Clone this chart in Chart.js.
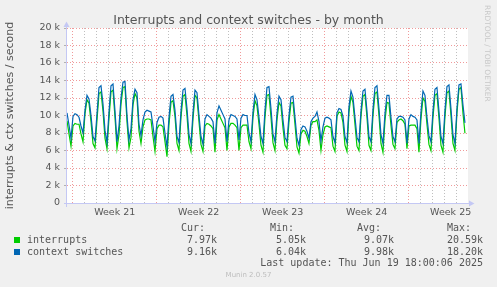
<!DOCTYPE html>
<html>
<head>
<meta charset="utf-8">
<script src="https://cdn.jsdelivr.net/npm/chart.js@4.4.1/dist/chart.umd.min.js"></script>
<style>
    html, body { margin: 0; padding: 0; background: #f0f0f0; }
    #wrap { position: relative; width: 497px; height: 287px; overflow: hidden; color: #555; font-family: 'DejaVu Sans Mono', monospace; font-size: 10px; }
    #wrap canvas { position: absolute; left: 0; top: 0; }
    .t { position: absolute; white-space: pre; line-height: 12px; }
    .r { text-align: right; }
    .sq { position: absolute; width: 6px; height: 6px; }
    #titulo { position: absolute; left: 0; width: 497px; top: 12px; text-align: center; font-family: 'DejaVu Sans', sans-serif; font-size: 12.5px; line-height: 15px; color: #555; }
    #rrd { position: absolute; left: 483px; top: 5px; writing-mode: vertical-rl; font-family: 'DejaVu Sans', sans-serif; font-size: 7.5px; color: #c8c8c8; }
    #munin { position: absolute; left: 0; width: 497px; top: 271px; text-align: center; font-family: 'DejaVu Sans', sans-serif; font-size: 7px; color: #bdbdbd; }
</style>
</head>
<body>
<div id="wrap">
    <canvas id="irqChart" width="497" height="287"></canvas>
    <div id="titulo">Interrupts and context switches - by month</div>
    <div id="rrd">RRDTOOL / TOBI OETIKER</div>

    <div class="t" style="left:181px; top:222px">Cur:</div>
    <div class="t" style="left:270px; top:222px">Min:</div>
    <div class="t" style="left:357px; top:222px">Avg:</div>
    <div class="t" style="left:447px; top:222px">Max:</div>

    <div class="sq" style="left:14px; top:237px; background:#00cc00"></div>
    <div class="t" style="left:27px; top:234px">interrupts</div>
    <div class="t r" style="right:280px; top:234px">7.97k</div>
    <div class="t r" style="right:191px; top:234px">5.05k</div>
    <div class="t r" style="right:103px; top:234px">9.07k</div>
    <div class="t r" style="right:14px; top:234px">20.59k</div>

    <div class="sq" style="left:14px; top:249px; background:#0066b3"></div>
    <div class="t" style="left:27px; top:246px">context switches</div>
    <div class="t r" style="right:280px; top:246px">9.16k</div>
    <div class="t r" style="right:191px; top:246px">6.04k</div>
    <div class="t r" style="right:103px; top:246px">9.98k</div>
    <div class="t r" style="right:14px; top:246px">18.20k</div>

    <div class="t r" style="right:14px; top:257px">Last update: Thu Jun 19 18:00:06 2025</div>
    <div id="munin">Munin 2.0.57</div>
</div>

<script>
// one sample every 4 hours, x axis counted in days from the first sample
const stepDays = 1 / 6;
const spanDays = 33.42;
const firstDayLine = 0.475;   // first midnight after the start (also start of week 21)
const weekLabels = ['Week 21', 'Week 22', 'Week 23', 'Week 24', 'Week 25'];

const interrupts = [
    9400, 7900, 6500, 8800, 9100, 9000,
    9000, 7900, 7000, 10200, 11800, 11400,
    9300, 6800, 6300, 9500, 12500, 12700,
    10500, 7400, 6200, 9700, 12700, 12900,
    9800, 6200, 7800, 11300, 13200, 13300,
    9300, 6300, 7500, 11200, 12500, 12000,
    8200, 6800, 8700, 9500, 9600, 9600,
    9500, 7600, 5900, 8500, 8900, 8900,
    8700, 7000, 5300, 9000, 11500, 11700,
    9900, 6800, 6000, 9800, 12200, 12400,
    10000, 6800, 5900, 9600, 12300, 12000,
    9300, 6700, 5900, 8800, 9100, 9000,
    8800, 8500, 5800, 9500, 10100, 9600,
    9100, 8600, 6000, 8700, 9100, 9100,
    8900, 8600, 6000, 8600, 8900, 8900,
    8900, 7000, 6200, 9800, 11700, 11100,
    9000, 6600, 5800, 9800, 12300, 12400,
    9800, 6900, 6000, 9500, 11500, 11100,
    8600, 6600, 6200, 9300, 11400, 11500,
    9000, 6400, 5700, 7900, 8300, 8200,
    7600, 6800, 8900, 9300, 9300, 9500,
    8300, 6000, 7800, 8700, 8800, 8700,
    8600, 6500, 5900, 9900, 10400, 10300,
    9200, 6600, 5900, 10400, 12200, 11500,
    9000, 6500, 6000, 9900, 12200, 12400,
    9800, 6600, 6000, 10000, 12500, 12700,
    10000, 6800, 5800, 9400, 11500, 11400,
    8900, 6700, 6200, 9200, 9500, 9600,
    9400, 9000, 6200, 8800, 8900, 8900,
    8900, 8500, 5800, 9600, 12000, 11600,
    9000, 6700, 6000, 9800, 12300, 12500,
    9700, 6600, 5800, 9900, 12600, 12800,
    10000, 6800, 6000, 10300, 13000, 13200,
    10300, 7970
];

const contextSwitches = [
    10300, 8900, 7400, 9900, 10200, 10100,
    9800, 8800, 8000, 10600, 12300, 11900,
    10000, 7600, 7100, 10200, 13200, 13400,
    11300, 8300, 6900, 10400, 13400, 13600,
    10500, 7000, 8800, 12000, 13800, 13900,
    10000, 7200, 8500, 11800, 13000, 12600,
    9000, 7700, 9500, 10400, 10600, 10500,
    10400, 8800, 7000, 9200, 9800, 9900,
    9700, 8000, 6400, 9800, 12200, 12400,
    10600, 7600, 6900, 10500, 12900, 13100,
    10800, 7800, 6800, 10300, 12900, 12600,
    10000, 7600, 6700, 9600, 10100, 9900,
    9700, 9300, 6800, 10300, 11100, 10600,
    10100, 9600, 7000, 9500, 10100, 10000,
    9900, 9600, 7200, 9700, 10100, 10000,
    10000, 8000, 7000, 10400, 12400, 11800,
    9800, 7600, 6800, 10600, 13200, 13300,
    10800, 7900, 7000, 10200, 12200, 11800,
    9500, 7500, 7000, 10000, 12100, 12200,
    9800, 7400, 6600, 8400, 8800, 8700,
    8200, 7400, 9300, 9700, 9900, 10400,
    9300, 7100, 8700, 9700, 9800, 9700,
    9500, 7600, 6900, 10300, 10800, 10700,
    9900, 7600, 6900, 11000, 12800, 12100,
    9800, 7500, 7000, 10500, 12800, 13000,
    10500, 7600, 7000, 10700, 13200, 13400,
    10800, 7800, 6800, 10200, 12300, 12300,
    9800, 7600, 7000, 9600, 9900, 9900,
    9800, 9500, 6800, 9600, 10100, 9900,
    9800, 9500, 6800, 10400, 12800, 12300,
    9800, 7700, 7000, 10500, 13000, 13200,
    10500, 7600, 6800, 10600, 13300, 13500,
    10800, 7800, 6800, 10800, 13500, 13600,
    11200, 9160
];

const gridRojo = 'rgba(235, 120, 120, 0.75)';
const gridGris = 'rgba(175, 175, 175, 0.8)';
const ejeColor = '#c4c8f4';

const toPoints = arr => arr.map((v, i) => ({ x: i * stepDays, y: v }));

// ticks del eje x: una linea por dia y una etiqueta a mitad de cada semana
const xTicks = [];
for (let d = firstDayLine; d < spanDays; d += 1) {
    xTicks.push({ value: d, week: Math.round(d - firstDayLine) % 7 === 0 });
}
weekLabels.forEach((name, i) => {
    xTicks.push({ value: firstDayLine + 3.5 + 7 * i, name: name });
});
xTicks.sort((a, b) => a.value - b.value);

const marco = {
    id: 'marco',
    beforeDraw(chart) {
        const { ctx, chartArea: a } = chart;
        ctx.save();
        ctx.fillStyle = '#ffffff';
        ctx.fillRect(a.left, a.top, a.right - a.left, a.bottom - a.top);
        ctx.restore();
    },
    afterDraw(chart) {
        const { ctx, chartArea: a } = chart;
        const y0 = Math.round(a.bottom) + 0.5;
        const x0 = Math.round(a.left) - 0.5;
        ctx.save();
        ctx.strokeStyle = ejeColor;
        ctx.fillStyle = ejeColor;
        ctx.lineWidth = 1;
        ctx.beginPath();
        ctx.moveTo(a.left - 3, y0);
        ctx.lineTo(a.right + 2, y0);
        ctx.moveTo(x0, a.bottom + 4);
        ctx.lineTo(x0, a.top - 2);
        ctx.stroke();
        ctx.beginPath();
        ctx.moveTo(a.right + 1, y0 - 3);
        ctx.lineTo(a.right + 6.5, y0);
        ctx.lineTo(a.right + 1, y0 + 3);
        ctx.closePath();
        ctx.fill();
        ctx.beginPath();
        ctx.moveTo(x0 - 3, a.top - 1);
        ctx.lineTo(x0, a.top - 6.5);
        ctx.lineTo(x0 + 3, a.top - 1);
        ctx.closePath();
        ctx.fill();
        ctx.restore();
    }
};

const ctxCanvas = document.getElementById('irqChart');
const irqChart = new Chart(ctxCanvas, {
    type: 'line',
    data: {
        datasets: [
            {
                label: 'context switches',
                data: toPoints(contextSwitches),
                borderColor: '#0066b3',
                borderWidth: 1.2,
                pointRadius: 0,
                tension: 0,
                order: 0
            },
            {
                label: 'interrupts',
                data: toPoints(interrupts),
                borderColor: '#00cc00',
                borderWidth: 1.2,
                pointRadius: 0,
                tension: 0,
                order: 1
            }
        ]
    },
    options: {
        responsive: false,
        animation: false,
        devicePixelRatio: 1,
        layout: {
            padding: { left: 0, right: 29, top: 28, bottom: 64 }
        },
        plugins: {
            legend: { display: false },
            title: { display: false },
            tooltip: { enabled: false }
        },
        scales: {
            x: {
                type: 'linear',
                min: 0,
                max: spanDays,
                afterBuildTicks: scale => {
                    scale.ticks = xTicks.map(t => ({ ...t }));
                },
                afterFit: scale => {
                    scale.height = 20;
                },
                border: { display: false, dash: [1, 2] },
                grid: {
                    drawTicks: false,
                    lineWidth: 1,
                    color: c => {
                        if (!c.tick || c.tick.name) return 'rgba(0,0,0,0)';
                        return c.tick.week ? gridRojo : gridGris;
                    }
                },
                ticks: {
                    autoSkip: false,
                    maxRotation: 0,
                    padding: 4,
                    color: '#555',
                    font: { family: 'DejaVu Sans', size: 9.5 },
                    callback: (value, index, ticks) => ticks[index].name || ''
                }
            },
            y: {
                min: 0,
                max: 20000,
                afterFit: scale => {
                    scale.width = 67;
                },
                border: { display: false, dash: [1, 2] },
                grid: {
                    lineWidth: 1,
                    tickLength: 3,
                    color: c => (c.tick && c.tick.value % 2000 === 0) ? gridRojo : gridGris,
                    tickColor: '#b0b0b0'
                },
                ticks: {
                    stepSize: 1000,
                    padding: 4,
                    color: '#555',
                    font: { family: 'DejaVu Sans', size: 9.5 },
                    callback: v => {
                        if (v % 2000 !== 0) return '';
                        return v === 0 ? '0' : (v / 1000) + ' k';
                    }
                },
                title: {
                    display: true,
                    text: 'interrupts & ctx switches / second',
                    color: '#555',
                    font: { family: 'DejaVu Sans', size: 11 },
                    padding: { top: 4, bottom: 0 }
                }
            }
        }
    },
    plugins: [marco]
});
</script>
</body>
</html>
